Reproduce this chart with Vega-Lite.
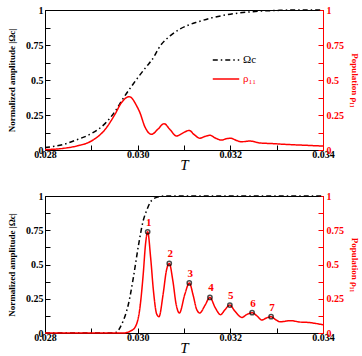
{
  "$schema": "https://vega.github.io/schema/vega-lite/v6.json",
  "padding": {"left": 7, "top": 4, "right": 2, "bottom": 2},
  "background": "white",
  "config": {
    "font": "Liberation Serif",
    "view": {"stroke": "black", "strokeWidth": 1},
    "axis": {
      "grid": false,
      "labelFont": "Liberation Serif",
      "labelFontWeight": "bold",
      "labelFontSize": 10,
      "labelOverlap": false,
      "labelFlush": false,
      "titleFont": "Liberation Serif",
      "titleFontWeight": "bold",
      "tickSize": -5,
      "tickColor": "black",
      "domainColor": "black",
      "labelColor": "black",
      "titleColor": "black"
    },
    "legend": {
      "labelFont": "Liberation Serif",
      "labelFontSize": 11
    }
  },
  "datasets": {
    "a_omega": [
      {"T": 0.0280, "v": 0.018, "s": "Ωc"},
      {"T": 0.0284, "v": 0.040, "s": "Ωc"},
      {"T": 0.0287, "v": 0.075, "s": "Ωc"},
      {"T": 0.0290, "v": 0.117, "s": "Ωc"},
      {"T": 0.0293, "v": 0.190, "s": "Ωc"},
      {"T": 0.0295, "v": 0.270, "s": "Ωc"},
      {"T": 0.0297, "v": 0.375, "s": "Ωc"},
      {"T": 0.0299, "v": 0.470, "s": "Ωc"},
      {"T": 0.0300, "v": 0.515, "s": "Ωc"},
      {"T": 0.0302, "v": 0.600, "s": "Ωc"},
      {"T": 0.0303, "v": 0.640, "s": "Ωc"},
      {"T": 0.0305, "v": 0.750, "s": "Ωc"},
      {"T": 0.0307, "v": 0.815, "s": "Ωc"},
      {"T": 0.0309, "v": 0.862, "s": "Ωc"},
      {"T": 0.0311, "v": 0.893, "s": "Ωc"},
      {"T": 0.0313, "v": 0.915, "s": "Ωc"},
      {"T": 0.0316, "v": 0.944, "s": "Ωc"},
      {"T": 0.0320, "v": 0.970, "s": "Ωc"},
      {"T": 0.0324, "v": 0.986, "s": "Ωc"},
      {"T": 0.0327, "v": 0.993, "s": "Ωc"},
      {"T": 0.0330, "v": 0.997, "s": "Ωc"},
      {"T": 0.0334, "v": 1.0, "s": "Ωc"},
      {"T": 0.0340, "v": 1.0, "s": "Ωc"}
    ],
    "a_rho": [
      {"T": 0.0280, "v": 0.003, "s": "ρ₁₁"},
      {"T": 0.0284, "v": 0.012, "s": "ρ₁₁"},
      {"T": 0.0287, "v": 0.030, "s": "ρ₁₁"},
      {"T": 0.0290, "v": 0.064, "s": "ρ₁₁"},
      {"T": 0.0293, "v": 0.148, "s": "ρ₁₁"},
      {"T": 0.02951, "v": 0.255, "s": "ρ₁₁"},
      {"T": 0.02965, "v": 0.338, "s": "ρ₁₁"},
      {"T": 0.02982, "v": 0.381, "s": "ρ₁₁"},
      {"T": 0.02998, "v": 0.314, "s": "ρ₁₁"},
      {"T": 0.03005, "v": 0.266, "s": "ρ₁₁"},
      {"T": 0.03015, "v": 0.170, "s": "ρ₁₁"},
      {"T": 0.03030, "v": 0.112, "s": "ρ₁₁"},
      {"T": 0.03044, "v": 0.150, "s": "ρ₁₁"},
      {"T": 0.03057, "v": 0.188, "s": "ρ₁₁"},
      {"T": 0.03070, "v": 0.145, "s": "ρ₁₁"},
      {"T": 0.03084, "v": 0.100, "s": "ρ₁₁"},
      {"T": 0.03098, "v": 0.122, "s": "ρ₁₁"},
      {"T": 0.03111, "v": 0.140, "s": "ρ₁₁"},
      {"T": 0.03122, "v": 0.110, "s": "ρ₁₁"},
      {"T": 0.03134, "v": 0.084, "s": "ρ₁₁"},
      {"T": 0.03145, "v": 0.097, "s": "ρ₁₁"},
      {"T": 0.03156, "v": 0.105, "s": "ρ₁₁"},
      {"T": 0.03168, "v": 0.085, "s": "ρ₁₁"},
      {"T": 0.03181, "v": 0.071, "s": "ρ₁₁"},
      {"T": 0.03191, "v": 0.080, "s": "ρ₁₁"},
      {"T": 0.03201, "v": 0.084, "s": "ρ₁₁"},
      {"T": 0.03212, "v": 0.070, "s": "ρ₁₁"},
      {"T": 0.03224, "v": 0.059, "s": "ρ₁₁"},
      {"T": 0.03242, "v": 0.064, "s": "ρ₁₁"},
      {"T": 0.03264, "v": 0.050, "s": "ρ₁₁"},
      {"T": 0.03290, "v": 0.046, "s": "ρ₁₁"},
      {"T": 0.03320, "v": 0.040, "s": "ρ₁₁"},
      {"T": 0.03360, "v": 0.034, "s": "ρ₁₁"},
      {"T": 0.03400, "v": 0.028, "s": "ρ₁₁"}
    ],
    "b_omega": [
      {"T": 0.0280, "v": 0.0, "s": "Ωc"},
      {"T": 0.0294, "v": 0.0, "s": "Ωc"},
      {"T": 0.02955, "v": 0.005, "s": "Ωc"},
      {"T": 0.02962, "v": 0.040, "s": "Ωc"},
      {"T": 0.02969, "v": 0.090, "s": "Ωc"},
      {"T": 0.02980, "v": 0.210, "s": "Ωc"},
      {"T": 0.02991, "v": 0.410, "s": "Ωc"},
      {"T": 0.03001, "v": 0.625, "s": "Ωc"},
      {"T": 0.03012, "v": 0.820, "s": "Ωc"},
      {"T": 0.03020, "v": 0.900, "s": "Ωc"},
      {"T": 0.03027, "v": 0.953, "s": "Ωc"},
      {"T": 0.03041, "v": 0.990, "s": "Ωc"},
      {"T": 0.03060, "v": 1.0, "s": "Ωc"},
      {"T": 0.03400, "v": 1.0, "s": "Ωc"}
    ],
    "b_rho": [
      {"T": 0.0280, "v": 0.0, "s": "ρ₁₁"},
      {"T": 0.0297, "v": 0.0, "s": "ρ₁₁"},
      {"T": 0.02976, "v": 0.003, "s": "ρ₁₁"},
      {"T": 0.02985, "v": 0.015, "s": "ρ₁₁"},
      {"T": 0.02994, "v": 0.040, "s": "ρ₁₁"},
      {"T": 0.03005, "v": 0.187, "s": "ρ₁₁"},
      {"T": 0.03012, "v": 0.430, "s": "ρ₁₁"},
      {"T": 0.03017, "v": 0.650, "s": "ρ₁₁"},
      {"T": 0.030216, "v": 0.739, "s": "ρ₁₁"},
      {"T": 0.03028, "v": 0.550, "s": "ρ₁₁"},
      {"T": 0.03034, "v": 0.310, "s": "ρ₁₁"},
      {"T": 0.03041, "v": 0.139, "s": "ρ₁₁"},
      {"T": 0.03046, "v": 0.119, "s": "ρ₁₁"},
      {"T": 0.03055, "v": 0.285, "s": "ρ₁₁"},
      {"T": 0.03062, "v": 0.455, "s": "ρ₁₁"},
      {"T": 0.030682, "v": 0.508, "s": "ρ₁₁"},
      {"T": 0.03076, "v": 0.380, "s": "ρ₁₁"},
      {"T": 0.03083, "v": 0.210, "s": "ρ₁₁"},
      {"T": 0.03090, "v": 0.146, "s": "ρ₁₁"},
      {"T": 0.03102, "v": 0.285, "s": "ρ₁₁"},
      {"T": 0.031114, "v": 0.365, "s": "ρ₁₁"},
      {"T": 0.03120, "v": 0.272, "s": "ρ₁₁"},
      {"T": 0.03127, "v": 0.175, "s": "ρ₁₁"},
      {"T": 0.03134, "v": 0.146, "s": "ρ₁₁"},
      {"T": 0.03145, "v": 0.200, "s": "ρ₁₁"},
      {"T": 0.03156, "v": 0.260, "s": "ρ₁₁"},
      {"T": 0.03167, "v": 0.187, "s": "ρ₁₁"},
      {"T": 0.03179, "v": 0.134, "s": "ρ₁₁"},
      {"T": 0.03188, "v": 0.168, "s": "ρ₁₁"},
      {"T": 0.03199, "v": 0.204, "s": "ρ₁₁"},
      {"T": 0.03209, "v": 0.163, "s": "ρ₁₁"},
      {"T": 0.03225, "v": 0.114, "s": "ρ₁₁"},
      {"T": 0.03235, "v": 0.134, "s": "ρ₁₁"},
      {"T": 0.03247, "v": 0.148, "s": "ρ₁₁"},
      {"T": 0.03257, "v": 0.126, "s": "ρ₁₁"},
      {"T": 0.03268, "v": 0.095, "s": "ρ₁₁"},
      {"T": 0.03278, "v": 0.110, "s": "ρ₁₁"},
      {"T": 0.03288, "v": 0.119, "s": "ρ₁₁"},
      {"T": 0.03296, "v": 0.102, "s": "ρ₁₁"},
      {"T": 0.03307, "v": 0.082, "s": "ρ₁₁"},
      {"T": 0.03330, "v": 0.090, "s": "ρ₁₁"},
      {"T": 0.03350, "v": 0.080, "s": "ρ₁₁"},
      {"T": 0.03368, "v": 0.077, "s": "ρ₁₁"},
      {"T": 0.03400, "v": 0.060, "s": "ρ₁₁"}
    ],
    "b_peaks": [
      {"T": 0.030216, "v": 0.739, "n": "1"},
      {"T": 0.030682, "v": 0.508, "n": "2"},
      {"T": 0.031114, "v": 0.365, "n": "3"},
      {"T": 0.03156, "v": 0.260, "n": "4"},
      {"T": 0.03199, "v": 0.204, "n": "5"},
      {"T": 0.03247, "v": 0.148, "n": "6"},
      {"T": 0.03288, "v": 0.119, "n": "7"}
    ]
  },
  "spacing": 46,
  "bounds": "flush",
  "vconcat": [
    {
      "width": 278,
      "height": 140,
      "layer": [
        {
          "layer": [
            {
              "data": {"name": "a_omega"},
              "mark": {"type": "line", "strokeWidth": 1.5, "interpolate": "monotone"},
              "encoding": {
                "x": {"field": "T", "type": "quantitative", "scale": {"domain": [0.028, 0.034], "nice": false, "zero": false},
                  "axis": {"values": [0.028, 0.029, 0.030, 0.031, 0.032, 0.033, 0.034], "labelExpr": "round(datum.value*1000) % 2 == 0 ? format(datum.value, '.3f') : ''", "labelPadding": 4, "title": "T", "titleFontStyle": "italic", "titleFontWeight": "normal", "titleFontSize": 15, "titlePadding": -2}},
                "y": {"field": "v", "type": "quantitative", "scale": {"domain": [0, 1], "nice": false},
                  "axis": {"values": [0, 0.125, 0.25, 0.375, 0.5, 0.625, 0.75, 0.875, 1], "labelExpr": "indexof([0, 0.25, 0.5, 0.75, 1], datum.value) >= 0 ? toString(datum.value) : ''", "labelPadding": 7, "title": "Normalized amplitude |Ωc|", "titleFontSize": 9, "titlePadding": 9}},
                "color": {"field": "s", "type": "nominal", "scale": {"domain": ["Ωc", "ρ₁₁"], "range": ["black", "red"]},
                  "legend": {"orient": "none", "legendX": 167, "legendY": 36, "title": null, "symbolType": "stroke", "symbolSize": 700, "symbolStrokeWidth": 1.5, "labelOffset": 3, "rowPadding": -11,
                    "encode": {"labels": {"update": {"fill": {"signal": "datum.label === 'ρ₁₁' ? 'red' : 'black'"}}}}}},
                "strokeDash": {"field": "s", "type": "nominal", "scale": {"domain": ["Ωc", "ρ₁₁"], "range": [[5, 3, 1.5, 3], [1, 0]]},
                  "legend": {"orient": "none", "legendX": 167, "legendY": 36, "title": null, "symbolType": "stroke", "symbolSize": 700, "symbolStrokeWidth": 1.5, "labelOffset": 3, "rowPadding": -11}}
              }
            },
            {
              "mark": {"type": "text", "font": "Liberation Serif", "fontWeight": "bold", "fontSize": 11},
              "encoding": {
                "x": {"datum": 0.02858, "type": "quantitative",
                  "axis": {"values": [0.028, 0.029, 0.030, 0.031, 0.032, 0.033, 0.034], "labelExpr": "round(datum.value*1000) % 2 == 0 ? format(datum.value, '.3f') : ''", "labelPadding": 4, "title": "T", "titleFontStyle": "italic", "titleFontWeight": "normal", "titleFontSize": 15, "titlePadding": -2}},
                "y": {"datum": 0.814, "type": "quantitative",
                  "axis": {"values": [0, 0.125, 0.25, 0.375, 0.5, 0.625, 0.75, 0.875, 1], "labelExpr": "indexof([0, 0.25, 0.5, 0.75, 1], datum.value) >= 0 ? toString(datum.value) : ''", "labelPadding": 7, "title": "Normalized amplitude |Ωc|", "titleFontSize": 9, "titlePadding": 9}},
                "text": {"value": "(a)"}
              }
            }
          ]
        },
        {
          "data": {"name": "a_rho"},
          "mark": {"type": "line", "strokeWidth": 1.5, "interpolate": "monotone"},
          "encoding": {
            "x": {"field": "T", "type": "quantitative",
              "axis": {"values": [0.028, 0.029, 0.030, 0.031, 0.032, 0.033, 0.034], "labelExpr": "round(datum.value*1000) % 2 == 0 ? format(datum.value, '.3f') : ''", "labelPadding": 4, "title": "T", "titleFontStyle": "italic", "titleFontWeight": "normal", "titleFontSize": 15, "titlePadding": -2}},
            "y": {"field": "v", "type": "quantitative", "scale": {"domain": [0, 1], "nice": false},
              "axis": {"orient": "right", "values": [0, 0.125, 0.25, 0.375, 0.5, 0.625, 0.75, 0.875, 1], "labelExpr": "indexof([0, 0.25, 0.5, 0.75, 1], datum.value) >= 0 ? toString(datum.value) : ''", "labelPadding": 8, "labelColor": "red", "tickColor": "red", "domainColor": "red", "title": "Population ρ₁₁", "titleColor": "red", "titleFontSize": 9, "titlePadding": 6}},
            "color": {"field": "s", "type": "nominal"},
            "strokeDash": {"field": "s", "type": "nominal"}
          }
        }
      ],
      "resolve": {"scale": {"y": "independent"}}
    },
    {
      "width": 278,
      "height": 137,
      "layer": [
        {
          "layer": [
            {
              "data": {"name": "b_omega"},
              "mark": {"type": "line", "strokeWidth": 1.5, "interpolate": "monotone"},
              "encoding": {
                "x": {"field": "T", "type": "quantitative", "scale": {"domain": [0.028, 0.034], "nice": false, "zero": false},
                  "axis": {"values": [0.028, 0.029, 0.030, 0.031, 0.032, 0.033, 0.034], "labelExpr": "round(datum.value*1000) % 2 == 0 ? format(datum.value, '.3f') : ''", "labelPadding": 4, "title": "T", "titleFontStyle": "italic", "titleFontWeight": "normal", "titleFontSize": 15, "titlePadding": -2}},
                "y": {"field": "v", "type": "quantitative", "scale": {"domain": [0, 1], "nice": false},
                  "axis": {"values": [0, 0.125, 0.25, 0.375, 0.5, 0.625, 0.75, 0.875, 1], "labelExpr": "indexof([0, 0.25, 0.5, 0.75, 1], datum.value) >= 0 ? toString(datum.value) : ''", "labelPadding": 7, "title": "Normalized amplitude |Ωc|", "titleFontSize": 9, "titlePadding": 9}},
                "color": {"field": "s", "type": "nominal", "scale": {"domain": ["Ωc", "ρ₁₁"], "range": ["black", "red"]},
                  "legend": {"orient": "none", "legendX": 162, "legendY": 3, "title": null, "symbolType": "stroke", "symbolSize": 800, "symbolStrokeWidth": 1.5, "labelOffset": 3, "rowPadding": -12,
                    "encode": {"labels": {"update": {"fill": {"signal": "datum.label === 'ρ₁₁' ? 'red' : 'black'"}}}}}},
                "strokeDash": {"field": "s", "type": "nominal", "scale": {"domain": ["Ωc", "ρ₁₁"], "range": [[5, 2, 1.5, 2], [1, 0]]},
                  "legend": {"orient": "none", "legendX": 162, "legendY": 3, "title": null, "symbolType": "stroke", "symbolSize": 800, "symbolStrokeWidth": 1.5, "labelOffset": 3, "rowPadding": -12}}
              }
            },
            {
              "mark": {"type": "text", "font": "Liberation Serif", "fontWeight": "bold", "fontSize": 11},
              "encoding": {
                "x": {"datum": 0.02847, "type": "quantitative",
                  "axis": {"values": [0.028, 0.029, 0.030, 0.031, 0.032, 0.033, 0.034], "labelExpr": "round(datum.value*1000) % 2 == 0 ? format(datum.value, '.3f') : ''", "labelPadding": 4, "title": "T", "titleFontStyle": "italic", "titleFontWeight": "normal", "titleFontSize": 15, "titlePadding": -2}},
                "y": {"datum": 0.944, "type": "quantitative",
                  "axis": {"values": [0, 0.125, 0.25, 0.375, 0.5, 0.625, 0.75, 0.875, 1], "labelExpr": "indexof([0, 0.25, 0.5, 0.75, 1], datum.value) >= 0 ? toString(datum.value) : ''", "labelPadding": 7, "title": "Normalized amplitude |Ωc|", "titleFontSize": 9, "titlePadding": 9}},
                "text": {"value": "(b)"}
              }
            }
          ]
        },
        {
          "layer": [
            {
              "data": {"name": "b_rho"},
              "mark": {"type": "line", "strokeWidth": 1.5, "interpolate": "monotone"},
              "encoding": {
                "x": {"field": "T", "type": "quantitative",
                  "axis": {"values": [0.028, 0.029, 0.030, 0.031, 0.032, 0.033, 0.034], "labelExpr": "round(datum.value*1000) % 2 == 0 ? format(datum.value, '.3f') : ''", "labelPadding": 4, "title": "T", "titleFontStyle": "italic", "titleFontWeight": "normal", "titleFontSize": 15, "titlePadding": -2}},
                "y": {"field": "v", "type": "quantitative", "scale": {"domain": [0, 1], "nice": false},
                  "axis": {"orient": "right", "values": [0, 0.125, 0.25, 0.375, 0.5, 0.625, 0.75, 0.875, 1], "labelExpr": "indexof([0, 0.25, 0.5, 0.75, 1], datum.value) >= 0 ? toString(datum.value) : ''", "labelPadding": 8, "labelColor": "red", "tickColor": "red", "domainColor": "red", "title": "Population ρ₁₁", "titleColor": "red", "titleFontSize": 9, "titlePadding": 6}},
                "color": {"field": "s", "type": "nominal"},
                "strokeDash": {"field": "s", "type": "nominal"}
              }
            },
            {
              "data": {"name": "b_peaks"},
              "mark": {"type": "point", "shape": "circle", "filled": false, "stroke": "black", "strokeWidth": 1.5, "size": 18},
              "encoding": {
                "x": {"field": "T", "type": "quantitative",
                  "axis": {"values": [0.028, 0.029, 0.030, 0.031, 0.032, 0.033, 0.034], "labelExpr": "round(datum.value*1000) % 2 == 0 ? format(datum.value, '.3f') : ''", "labelPadding": 4, "title": "T", "titleFontStyle": "italic", "titleFontWeight": "normal", "titleFontSize": 15, "titlePadding": -2}},
                "y": {"field": "v", "type": "quantitative",
                  "axis": {"orient": "right", "values": [0, 0.125, 0.25, 0.375, 0.5, 0.625, 0.75, 0.875, 1], "labelExpr": "indexof([0, 0.25, 0.5, 0.75, 1], datum.value) >= 0 ? toString(datum.value) : ''", "labelPadding": 8, "labelColor": "red", "tickColor": "red", "domainColor": "red", "title": "Population ρ₁₁", "titleColor": "red", "titleFontSize": 9, "titlePadding": 6}}
              }
            },
            {
              "data": {"name": "b_peaks"},
              "mark": {"type": "text", "font": "Liberation Serif", "fontWeight": "bold", "fontSize": 11, "color": "red", "dy": -9, "dx": 1},
              "encoding": {
                "x": {"field": "T", "type": "quantitative",
                  "axis": {"values": [0.028, 0.029, 0.030, 0.031, 0.032, 0.033, 0.034], "labelExpr": "round(datum.value*1000) % 2 == 0 ? format(datum.value, '.3f') : ''", "labelPadding": 4, "title": "T", "titleFontStyle": "italic", "titleFontWeight": "normal", "titleFontSize": 15, "titlePadding": -2}},
                "y": {"field": "v", "type": "quantitative",
                  "axis": {"orient": "right", "values": [0, 0.125, 0.25, 0.375, 0.5, 0.625, 0.75, 0.875, 1], "labelExpr": "indexof([0, 0.25, 0.5, 0.75, 1], datum.value) >= 0 ? toString(datum.value) : ''", "labelPadding": 8, "labelColor": "red", "tickColor": "red", "domainColor": "red", "title": "Population ρ₁₁", "titleColor": "red", "titleFontSize": 9, "titlePadding": 6}},
                "text": {"field": "n"}
              }
            }
          ]
        }
      ],
      "resolve": {"scale": {"y": "independent"}}
    }
  ]
}
